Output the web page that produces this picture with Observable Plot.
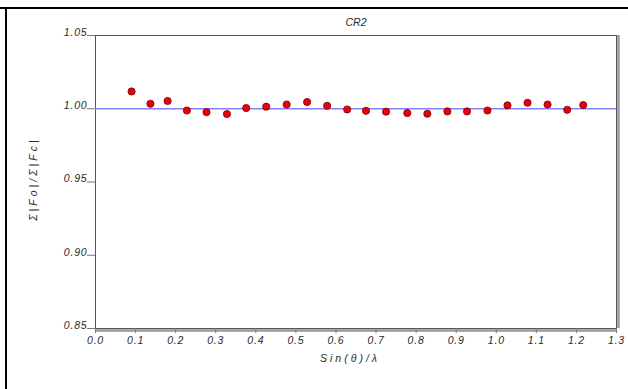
<!DOCTYPE html>
<html>
<head>
<meta charset="utf-8">
<script src="https://cdn.jsdelivr.net/npm/d3@7"></script>
<script src="https://cdn.jsdelivr.net/npm/@observablehq/plot@0.6"></script>
<style>
  body { margin: 0; background: #fff; font-family: "Liberation Sans", Arial, sans-serif; }
  #wrap { position: relative; width: 628px; height: 389px; overflow: hidden; }
  .hline { position: absolute; left: 0; top: 7px; width: 628px; height: 2px; background: #000; }
  .vline { position: absolute; left: 5px; top: 8px; width: 2px; height: 381px; background: #000; }
</style>
</head>
<body>
<div id="wrap">
  <div class="hline"></div>
  <div class="vline"></div>
</div>
<script>
const sinThetaLambda = [0.09, 0.137, 0.18, 0.228, 0.277, 0.328, 0.376, 0.426, 0.477, 0.528, 0.578, 0.628,
                        0.675, 0.725, 0.778, 0.828, 0.878, 0.927, 0.978, 1.028, 1.078, 1.128, 1.177, 1.217];
const ratioFoFc = [1.0118, 1.0034, 1.0053, 0.9988, 0.9977, 0.9964, 1.0005, 1.0014, 1.0029, 1.0046, 1.0020, 0.9995,
                   0.9986, 0.9980, 0.9971, 0.9966, 0.9982, 0.9982, 0.9988, 1.0023, 1.0041, 1.0029, 0.9993, 1.0025];
const xTicks = [0, 0.1, 0.2, 0.3, 0.4, 0.5, 0.6, 0.7, 0.8, 0.9, 1.0, 1.1, 1.2, 1.3];
const yTicks = [0.85, 0.90, 0.95, 1.00, 1.05];
const referenceLevel = [1.0];
const chartTitle = "CR2";
const xLabel = "Sin(θ)/λ";
const yLabel = "Σ|Fo|/Σ|Fc|";

const points = sinThetaLambda.map((s, i) => ({s, r: ratioFoFc[i]}));

const chart = Plot.plot({
  width: 628,
  height: 389,
  marginLeft: 95,
  marginRight: 12,
  marginTop: 35,
  marginBottom: 61,
  style: {fontFamily: "'Liberation Sans', Arial, sans-serif", background: "transparent", overflow: "visible"},
  x: {domain: [0, 1.3]},
  y: {domain: [0.85, 1.05]},
  marks: [
    Plot.ruleX([1.3], {dx: 2, stroke: "#999", strokeWidth: 2.5}),
    Plot.ruleY([0.85], {dy: 2, stroke: "#999", strokeWidth: 2.5}),
    Plot.frame({stroke: "#555", strokeWidth: 1}),
    Plot.axisY({ticks: yTicks, tickSize: 8, stroke: "#777", tickFormat: () => "", label: null}),
    Plot.axisY({ticks: yTicks, tickSize: 0, tickPadding: 8, dy: -3, tickFormat: d3.format(".2f"),
                fontSize: 10.5, fontStyle: "italic", fill: "#2a2a2a", label: null}),
    Plot.axisX({ticks: xTicks, tickSize: 5, tickPadding: 3, tickFormat: d3.format(".1f"),
                fontSize: 10.5, fontStyle: "italic", fill: "#2a2a2a", stroke: "#777", label: null}),
    Plot.ruleY(referenceLevel, {stroke: "#8282ff", strokeWidth: 1.5}),
    Plot.dot(points, {x: "s", y: "r", r: 3.6, fill: "#e8000b", stroke: "#7a0000", strokeWidth: 0.8}),
    Plot.text([chartTitle], {frameAnchor: "top", dy: -17, fontSize: 10.5, fontStyle: "italic", fill: "#2a2a2a"}),
    Plot.text([xLabel], {frameAnchor: "bottom", dx: -6, dy: 33, fontSize: 10.5, fontStyle: "italic", fill: "#2a2a2a"}),
    Plot.text([yLabel], {frameAnchor: "left", textAnchor: "middle", dx: -62, dy: -3, rotate: -90,
                         fontSize: 10.5, fontStyle: "italic", fill: "#2a2a2a"})
  ]
});
chart.style.position = "absolute";
chart.style.left = "0px";
chart.style.top = "0px";
chart.querySelectorAll("text").forEach(t => {
  if (t.textContent === xLabel || t.textContent === yLabel) t.setAttribute("letter-spacing", "3");
  else if (t.textContent !== chartTitle) t.setAttribute("letter-spacing", "0.8");
});
document.getElementById("wrap").appendChild(chart);
</script>
</body>
</html>
